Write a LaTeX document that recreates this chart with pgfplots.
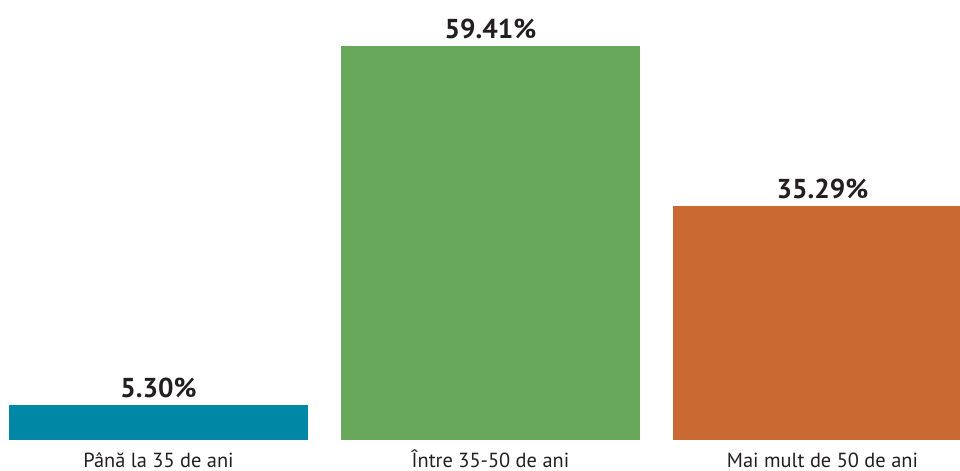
\documentclass[border=0pt]{standalone}
\usepackage{pgfplots}
\pgfplotsset{compat=1.18}
\usepackage{fontspec}
\setmainfont{PT Sans}
\definecolor{cteal}{RGB}{0,135,165}
\definecolor{cgreen}{RGB}{103,168,90}
\definecolor{corange}{RGB}{203,105,50}
\definecolor{ctext}{RGB}{35,31,32}
\begin{document}
\begin{tikzpicture}
\begin{axis}[
  scale only axis,
  width=720pt, height=330pt,
  xmin=-0.4774, xmax=2.4142,
  ymin=0, ymax=66.33,
  axis line style={draw=none},
  major tick length=0pt,
  ytick=\empty,
  xtick={0,1,2},
  xticklabels={Până la 35 de ani,Între 35-50 de ani,Mai mult de 50 de ani},
  xticklabel style={font=\fontsize{15.3pt}{18pt}\selectfont, text=ctext, anchor=base, inner sep=0pt, text depth=0pt, yshift=-20.5pt},
  ybar, bar width=224.25pt,
  /pgf/number format/assume math mode=true,
  nodes near coords={\pgfmathprintnumber[fixed,fixed zerofill,precision=2]{\pgfplotspointmeta}\%},
  every node near coord/.append style={font=\bfseries\fontsize{20.5pt}{24pt}\selectfont, text=ctext, yshift=2pt},
  clip=true,
]
\addplot[fill=cteal, draw=none, bar shift=0pt] coordinates {(0,5.30)};
\addplot[fill=cgreen, draw=none, bar shift=0pt] coordinates {(1,59.41)};
\addplot[fill=corange, draw=none, bar shift=0pt] coordinates {(2,35.29)};
\end{axis}
\pgfresetboundingbox
\path (current axis.south west) ++(0,-23.25pt) rectangle ([yshift=0pt]current axis.north east);
\end{tikzpicture}
\end{document}
